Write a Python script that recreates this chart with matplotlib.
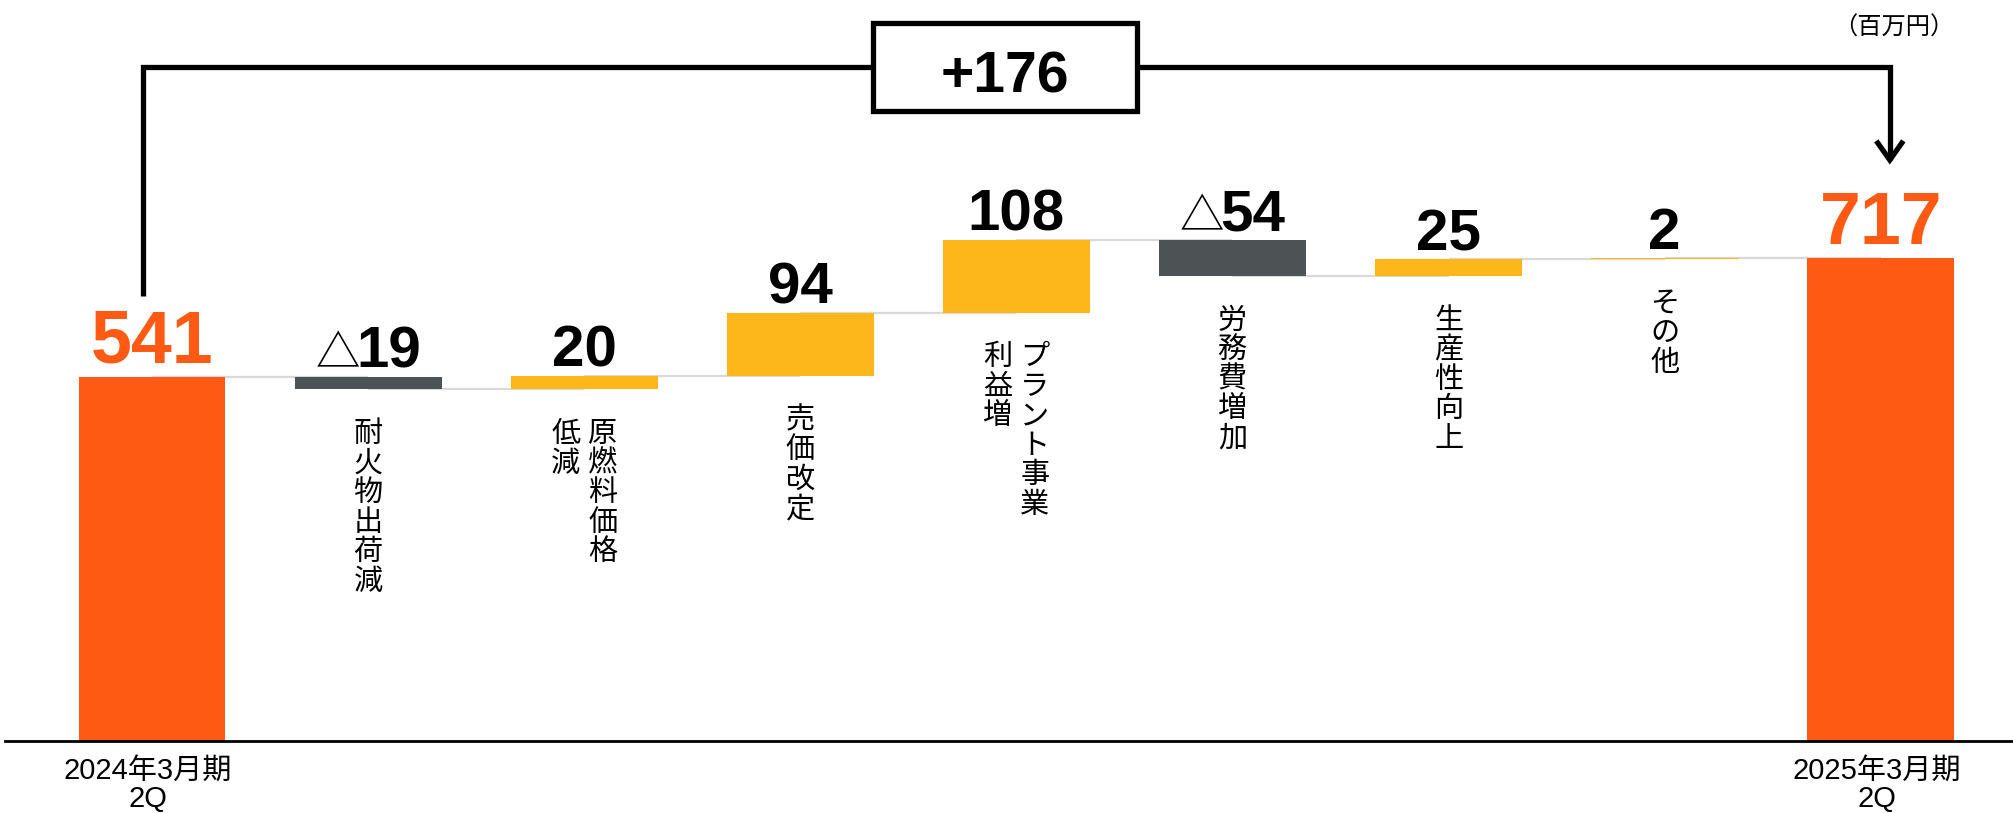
import matplotlib
matplotlib.use('Agg')
import matplotlib.pyplot as plt
from matplotlib import font_manager
from matplotlib.patches import Rectangle

# ---------------- data ----------------
categories = ['2024年3月期\n2Q', '耐火物出荷減', '原燃料価格\n低減', '売価改定',
              'プラント事業\n利益増', '労務費増加', '生産性向上', 'その他', '2025年3月期\n2Q']
start_value = 541
end_value = 717
deltas = [-19, 20, 94, 108, -54, 25, 2]
unit_label = '（百万円）'

# ---------------- fonts / styles ----------------
names = {f.name for f in font_manager.fontManager.ttflist}
NUM = 'Liberation Sans' if 'Liberation Sans' in names else 'DejaVu Sans'
NARROW = 'Liberation Sans Narrow' if 'Liberation Sans Narrow' in names else NUM
JP = 'Noto Sans CJK JP'

ORANGE = '#FF5A14'
YELLOW = '#FDB71A'
GRAY = '#4D5254'
CONN = '#D9D9D9'

W, H, DPI = 2013, 813, 100
fig = plt.figure(figsize=(W / DPI, H / DPI), dpi=DPI)
ax = fig.add_axes([0, 0, 1, 1])
ax.axis('off')

# layout: y=0 at pixel row 741, x index 0 at pixel column 152
base_px = 741
scale = 0.6737          # pixels per unit
c0, step = 152, 216.1   # first bar center / spacing in px
ax.set_ylim(-(H - base_px) / scale, base_px / scale)
ax.set_xlim(-c0 / step, (W - c0) / step)
PT = 72.0 / DPI         # points per pixel


def py(px_from_top):
    """pixel row -> data y"""
    return (base_px - px_from_top) / scale


def dx(px):
    return px / step


# ---------------- waterfall geometry ----------------
n = len(categories)
xs = list(range(n))
bottoms, heights, colors = [0], [start_value], [ORANGE]
levels = [start_value]
level = start_value
for d in deltas:
    bottoms.append(min(level, level + d))
    heights.append(abs(d))
    colors.append(YELLOW if d >= 0 else GRAY)
    level += d
    levels.append(level)
bottoms.append(0)
heights.append(end_value)
colors.append(ORANGE)

ax.bar(xs, heights, bottom=bottoms, width=0.68, color=colors, zorder=3, linewidth=0)

# connectors
for i in range(n - 1):
    ax.hlines(levels[i], i, i + 1, color=CONN, lw=1.6, zorder=1)

# baseline
ax.axhline(0, xmin=5 / W, xmax=1, color='black', lw=2.0, zorder=6)

# ---------------- value labels ----------------
fig.canvas.draw()
renderer = fig.canvas.get_renderer()

vals = [start_value] + deltas + [end_value]
for i, v in enumerate(vals):
    top = bottoms[i] + heights[i]
    total = i in (0, n - 1)
    if total or v >= 0:
        ax.annotate(str(v), (i, top), xytext=(0, 10 if total else 6.5),
                    textcoords='offset points', ha='center', va='baseline',
                    fontsize=53 if total else 42, fontweight='bold', family=[NUM],
                    color=ORANGE if total else 'black', zorder=7)
    else:
        num = ax.annotate(str(abs(v)), (i, top), xytext=(0, 6.5), textcoords='offset points',
                          ha='left', va='baseline', fontsize=42, fontweight='bold',
                          family=[NUM], color='black', zorder=7)
        tri = ax.annotate('△', (i, top), xytext=(0, 6.5), textcoords='offset points',
                          ha='right', va='baseline', fontsize=32, family=[JP],
                          color='black', zorder=7)
        w_num = num.get_window_extent(renderer).width
        w_tri = tri.get_window_extent(renderer).width
        sep = -4
        total_w = w_tri + sep + w_num
        left = -total_w / 2
        tri.set_position(((left + w_tri) * PT, 6.5))
        num.set_position(((left + w_tri + sep) * PT, 6.5))

# ---------------- category labels ----------------
PITCH = 29.5
COLGAP = 37


def vertical_label(i, text, top_px):
    cols = text.split('\n')
    nc = len(cols)
    for j, col in enumerate(cols):
        off = ((nc - 1) / 2 - j) * COLGAP
        for k, ch in enumerate(col):
            cy = top_px + (k + 0.5) * PITCH
            ax.text(i + dx(off), py(cy), ch, ha='center', va='center',
                    fontsize=21, family=[JP], color='black', zorder=7)


for i in range(1, n - 1):
    bar_bottom_px = base_px - bottoms[i] * scale
    vertical_label(i, categories[i], bar_bottom_px + 30)

for i in (0, n - 1):
    l1, l2 = categories[i].split('\n')
    ax.text(i - dx(4), py(779), l1, ha='center', va='baseline', fontsize=21,
            family=[NARROW, JP], color='black')
    ax.text(i - dx(4), py(807), l2, ha='center', va='baseline', fontsize=21,
            family=[NARROW, JP], color='black')

# ---------------- bracket with total change ----------------
LW = 3.8
y_line = py(67)
left_x = 0 - dx(9)
right_x = (n - 1) + dx(9)
left_bottom = py(296)
tip = py(160)
ax.plot([left_x, left_x, right_x, right_x], [left_bottom, y_line, y_line, tip],
        color='black', lw=LW, solid_joinstyle='miter', solid_capstyle='butt', zorder=4)
ax.plot([right_x - dx(12), right_x, right_x + dx(12)], [tip + 17 / scale, tip, tip + 17 / scale],
        color='black', lw=LW, solid_joinstyle='miter', zorder=4)

bx0, bx1 = (873 - c0) / step, (1137 - c0) / step
ax.add_patch(Rectangle((bx0, py(111)), bx1 - bx0, py(23) - py(111), facecolor='white',
                       edgecolor='black', lw=LW, zorder=5))
change = end_value - start_value
ax.text((bx0 + bx1) / 2, py(92), f'+{change}', ha='center', va='baseline', fontsize=41,
        fontweight='bold', family=[NUM], color='black', zorder=6)

# unit
ax.text((1894 - c0) / step, py(28), unit_label, ha='center', va='center', fontsize=17.5,
        family=[JP], color='black')

fig.savefig('out.png', dpi=DPI)
